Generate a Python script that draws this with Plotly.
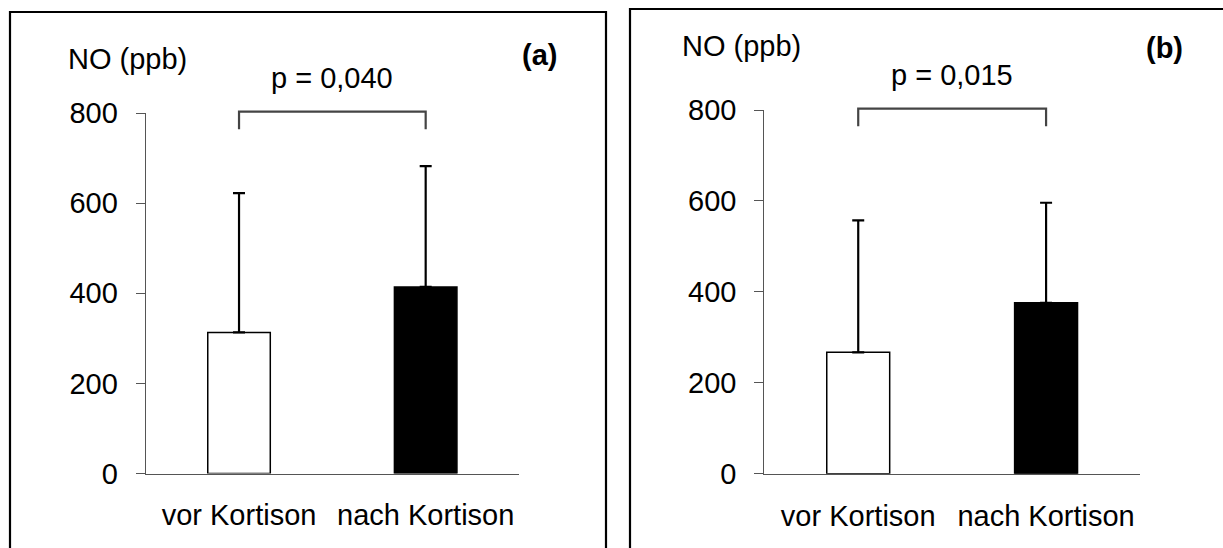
import plotly.graph_objects as go

# Figure size in pixels
W, H = 1223, 548

# ---- data -------------------------------------------------------------
categories = ["vor Kortison", "nach Kortison"]

means_a = [313, 414]   # NO (ppb), panel (a)
sd_a = [309, 268]

means_b = [267, 376]   # NO (ppb), panel (b)
sd_b = [290, 220]

p_labels = ["p = 0,040", "p = 0,015"]
panel_tags = ["(a)", "(b)"]
y_ticks = [0, 200, 400, 600, 800]
y_title = "NO (ppb)"

# ---- style ------------------------------------------------------------
FONT = "Arial, Liberation Sans, sans-serif"
AXIS_GREY = "#555555"
BRACKET_GREY = "#444444"
bar_fills = ["white", "black"]
Y_MAX = 800
BRACKET_TOP = 803      # bracket level in data units
BRACKET_FOOT = 764     # end of the bracket legs
P_TEXT_LEVEL = 877     # centre of the p-value text


def fx(x):
    """pixel column -> paper x"""
    return x / W


def fy(y):
    """pixel row -> paper y"""
    return 1 - y / H


# plot-area geometry of each panel, in pixels (left, right, bottom, top)
panels = [
    dict(means=means_a, sd=sd_a, p=p_labels[0], tag=panel_tags[0],
         area=(145.7, 519.0, 473.5, 113.0),
         title_xy=(127, 59), tag_xy=(539, 55),
         frame=(10, 606, 12, 600)),
    dict(means=means_b, sd=sd_b, p=p_labels[1], tag=panel_tags[1],
         area=(764.3, 1140.0, 473.7, 110.0),
         title_xy=(741, 46), tag_xy=(1164, 48),
         frame=(630, 1240, 9, 600)),
]

fig = go.Figure()
shapes = []
annotations = []
layout_axes = {}

for i, pnl in enumerate(panels, start=1):
    sfx = "" if i == 1 else str(i)
    xa, ya = "x" + sfx, "y" + sfx
    left, right, bottom, top = pnl["area"]

    fig.add_trace(go.Bar(
        x=categories,
        y=pnl["means"],
        width=0.335,
        marker=dict(color=bar_fills, line=dict(color="black", width=1.5)),
        error_y=dict(type="data", array=pnl["sd"], arrayminus=[0] * len(pnl["sd"]),
                     symmetric=False, color="black", thickness=2.2, width=6),
        xaxis=xa, yaxis=ya, showlegend=False, hoverinfo="skip",
    ))

    layout_axes["xaxis" + sfx] = dict(
        domain=[fx(left), fx(right)], anchor=ya, type="category",
        range=[-0.5, len(categories) - 0.5],
        showline=True, linecolor=AXIS_GREY, linewidth=1.2,
        ticks="", showgrid=False, zeroline=False, automargin=False,
        tickfont=dict(family=FONT, size=29, color="black"),
        ticklabelstandoff=16, fixedrange=True,
    )
    layout_axes["yaxis" + sfx] = dict(
        domain=[fy(bottom), fy(top)], anchor=xa,
        range=[0, Y_MAX], tickvals=y_ticks,
        showline=True, linecolor=AXIS_GREY, linewidth=1.2,
        ticks="outside", ticklen=9, tickcolor=AXIS_GREY, tickwidth=1.2,
        showgrid=False, zeroline=False, automargin=False,
        tickfont=dict(family=FONT, size=29, color="black"),
        ticklabelstandoff=12, fixedrange=True,
    )

    # significance bracket between the two bar centres
    n = len(categories)
    c0, c1 = 0.5 / n, 1.5 / n
    yt, yb = BRACKET_TOP / Y_MAX, BRACKET_FOOT / Y_MAX
    shapes.append(dict(
        type="path", xref=xa + " domain", yref=ya + " domain",
        path=f"M {c0},{yb} L {c0},{yt} L {c1},{yt} L {c1},{yb}",
        line=dict(color=BRACKET_GREY, width=2.2),
    ))
    annotations.append(dict(
        text=pnl["p"], xref=xa + " domain", yref=ya + " domain",
        x=(c0 + c1) / 2, y=P_TEXT_LEVEL / Y_MAX, xanchor="center", yanchor="middle",
        showarrow=False, font=dict(family=FONT, size=29, color="black"),
    ))

    # axis title and panel tag
    tx, ty = pnl["title_xy"]
    annotations.append(dict(
        text=y_title, xref="paper", yref="paper", x=fx(tx), y=fy(ty),
        xanchor="center", yanchor="middle", showarrow=False,
        font=dict(family=FONT, size=29, color="black"),
    ))
    gx, gy = pnl["tag_xy"]
    annotations.append(dict(
        text="<b>" + pnl["tag"] + "</b>", xref="paper", yref="paper",
        x=fx(gx), y=fy(gy), xanchor="center", yanchor="middle", showarrow=False,
        font=dict(family=FONT, size=29, color="black"),
    ))

    # panel frame
    x0, x1, y0, y1 = pnl["frame"]
    shapes.append(dict(
        type="rect", xref="paper", yref="paper",
        x0=fx(x0), x1=fx(x1), y0=fy(y0), y1=fy(y1),
        line=dict(color="black", width=2.2), fillcolor="rgba(0,0,0,0)",
    ))

fig.update_layout(
    width=W, height=H,
    margin=dict(l=0, r=0, t=0, b=0, pad=0, autoexpand=False),
    paper_bgcolor="white", plot_bgcolor="white",
    showlegend=False, bargap=0.5,
    shapes=shapes, annotations=annotations,
    **layout_axes,
)

fig.write_html("out.html", config={"displayModeBar": False})
